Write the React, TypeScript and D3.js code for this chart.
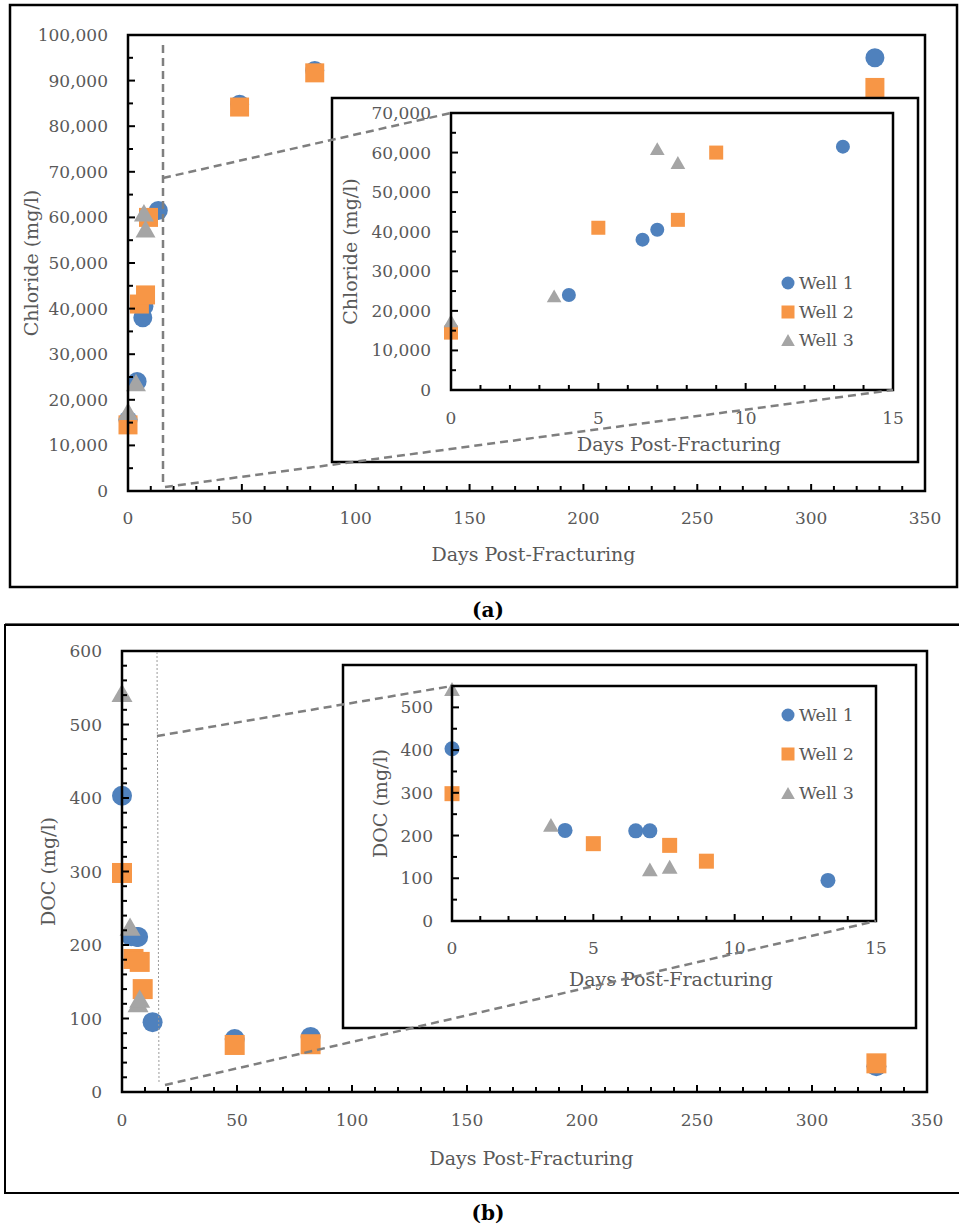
import React from 'react';
import * as d3 from 'd3';

// ---------------- DATA ----------------
const well1Days = [0, 4, 6.5, 7, 13.3, 49, 82, 328];
const well1Chloride = [15500, 24000, 38000, 40500, 61500, 84800, 92200, 95000];
const well1DOC = [403, 212, 211, 211, 95, 72, 75, 35];

const well2Days = [0, 5, 7.7, 9, 49, 82, 328];
const well2Chloride = [14500, 41000, 43000, 60000, 84200, 91700, 88500];
const well2DOC = [298, 181, 177, 140, 64, 65, 39];

const well3Days = [0, 3.5, 7, 7.7];
const well3Chloride = [17500, 23800, 61000, 57500];
const well3DOC = [543, 225, 121, 127];

const seriesNames = ['Well 1', 'Well 2', 'Well 3'];

const mainXTicks = [0, 50, 100, 150, 200, 250, 300, 350];
const insetXTicks = [0, 5, 10, 15];
const chlorideMainTicks = [0, 10000, 20000, 30000, 40000, 50000, 60000, 70000, 80000, 90000, 100000];
const chlorideInsetTicks = [0, 10000, 20000, 30000, 40000, 50000, 60000, 70000];
const docMainTicks = [0, 100, 200, 300, 400, 500, 600];
const docInsetTicks = [0, 100, 200, 300, 400, 500];

const xTitle = 'Days Post-Fracturing';
const chlorideTitle = 'Chloride (mg/l)';
const docTitle = 'DOC (mg/l)';

// ---------------- STYLE ----------------
const COLORS = ['#4F81BD', '#F79646', '#A5A5A5'];
const SHAPES = ['circle', 'square', 'triangle'] as const;
const FONT = '"DejaVu Serif", "Liberation Serif", serif';
const TXT = '#595959';
const fmt = d3.format(',');

type Shape = typeof SHAPES[number];

function Marker({ shape, cx, cy, s, color }: { shape: Shape; cx: number; cy: number; s: number; color: string }) {
  if (shape === 'circle') return <circle cx={cx} cy={cy} r={s / 2} fill={color} />;
  if (shape === 'square') return <rect x={cx - s / 2} y={cy - s / 2} width={s} height={s} fill={color} />;
  const w = s * 1.05;
  const h = s * 0.92;
  return (
    <polygon
      points={`${cx},${cy - h / 2} ${cx - w / 2},${cy + h / 2} ${cx + w / 2},${cy + h / 2}`}
      fill={color}
    />
  );
}

interface PlotCfg {
  left: number; right: number; top: number; bottom: number;
  xMax: number; yMax: number;
  xTicks: number[]; xMinorStep: number;
  yTicks: number[]; yMinorStep: number;
  yLabelGap: number; xLabelGap: number;
  xTitleY: number; yTitleX: number;
  yTitle: string;
  series: { days: number[]; vals: number[] }[];
  markerSize: number;
  clipDays?: number;
}

function Plot({ c }: { c: PlotCfg }) {
  const x = d3.scaleLinear().domain([0, c.xMax]).range([c.left, c.right]);
  const y = d3.scaleLinear().domain([0, c.yMax]).range([c.bottom, c.top]);
  const xMinor = d3.range(0, c.xMax + 1e-9, c.xMinorStep);
  const yMinor = d3.range(0, c.yMax + 1e-9, c.yMinorStep);
  const xMajorSet = new Set(c.xTicks);
  const yMajorSet = new Set(c.yTicks);
  const cx = (c.left + c.right) / 2;
  const cy = (c.top + c.bottom) / 2;
  return (
    <g>
      {c.series.map((s, si) =>
        s.days.map((d, i) =>
          c.clipDays !== undefined && d > c.clipDays ? null : (
            <Marker key={`${si}-${i}`} shape={SHAPES[si]} cx={x(d)} cy={y(s.vals[i])} s={c.markerSize} color={COLORS[si]} />
          )
        )
      )}
      <rect x={c.left} y={c.top} width={c.right - c.left} height={c.bottom - c.top} fill="none" stroke="#000" strokeWidth={2.5} />
      {xMinor.map((t) => (
        <line key={'xt' + t} x1={x(t)} x2={x(t)} y1={c.bottom} y2={c.bottom - (xMajorSet.has(+t.toFixed(6)) ? 7 : 5)} stroke="#000" strokeWidth={2} />
      ))}
      {yMinor.map((t) => (
        <line key={'yt' + t} x1={c.left} x2={c.left + (yMajorSet.has(+t.toFixed(6)) ? 7 : 5)} y1={y(t)} y2={y(t)} stroke="#000" strokeWidth={2} />
      ))}
      {c.xTicks.map((t) => (
        <text key={'xl' + t} x={x(t)} y={c.bottom + c.xLabelGap} textAnchor="middle" dominantBaseline="central" fontSize={17} fill={TXT} fontFamily={FONT}>
          {fmt(t)}
        </text>
      ))}
      {c.yTicks.map((t) => (
        <text key={'yl' + t} x={c.left - c.yLabelGap} y={y(t)} textAnchor="end" dominantBaseline="central" fontSize={17} fill={TXT} fontFamily={FONT}>
          {fmt(t)}
        </text>
      ))}
      <text x={cx + 7} y={c.xTitleY} textAnchor="middle" fontSize={19} fill={TXT} fontFamily={FONT}>{xTitle}</text>
      <text transform={`translate(${c.yTitleX},${cy}) rotate(-90)`} textAnchor="middle" dominantBaseline="central" fontSize={19} fill={TXT} fontFamily={FONT}>
        {c.yTitle}
      </text>
    </g>
  );
}

function Legend({ x, rows }: { x: number; rows: number[] }) {
  return (
    <g>
      {seriesNames.map((n, i) => (
        <g key={n}>
          <Marker shape={SHAPES[i]} cx={x} cy={rows[i]} s={13} color={COLORS[i]} />
          <text x={x + 11} y={rows[i]} dominantBaseline="central" fontSize={17.5} fill={TXT} fontFamily={FONT}>{n}</text>
        </g>
      ))}
    </g>
  );
}

const DASH = { stroke: '#7f7f7f', strokeWidth: 2.5, strokeDasharray: '8 5', fill: 'none' };

export default function App() {
  const mainA: PlotCfg = {
    left: 128, right: 925, top: 35, bottom: 491,
    xMax: 350, yMax: 100000,
    xTicks: mainXTicks, xMinorStep: 10,
    yTicks: chlorideMainTicks, yMinorStep: 5000,
    yLabelGap: 20, xLabelGap: 27,
    xTitleY: 561, yTitleX: 31, yTitle: chlorideTitle,
    series: [
      { days: well1Days, vals: well1Chloride },
      { days: well2Days, vals: well2Chloride },
      { days: well3Days, vals: well3Chloride },
    ],
    markerSize: 19,
  };
  const insetA: PlotCfg = {
    left: 451, right: 893, top: 113, bottom: 390,
    xMax: 15, yMax: 70000,
    xTicks: insetXTicks, xMinorStep: 1,
    yTicks: chlorideInsetTicks, yMinorStep: 5000,
    yLabelGap: 20, xLabelGap: 28,
    xTitleY: 451, yTitleX: 350, yTitle: chlorideTitle,
    series: mainA.series,
    markerSize: 14,
    clipDays: 15,
  };
  const mainB: PlotCfg = {
    left: 122, right: 927, top: 651, bottom: 1092,
    xMax: 350, yMax: 600,
    xTicks: mainXTicks, xMinorStep: 10,
    yTicks: docMainTicks, yMinorStep: 20,
    yLabelGap: 20, xLabelGap: 28,
    xTitleY: 1165, yTitleX: 48, yTitle: docTitle,
    series: [
      { days: well1Days, vals: well1DOC },
      { days: well2Days, vals: well2DOC },
      { days: well3Days, vals: well3DOC },
    ],
    markerSize: 20,
  };
  const insetB: PlotCfg = {
    left: 452, right: 876, top: 686, bottom: 921,
    xMax: 15, yMax: 550,
    xTicks: insetXTicks, xMinorStep: 1,
    yTicks: docInsetTicks, yMinorStep: 50,
    yLabelGap: 19, xLabelGap: 27,
    xTitleY: 986, yTitleX: 380, yTitle: docTitle,
    series: mainB.series,
    markerSize: 15,
    clipDays: 15,
  };

  return (
    <svg width={959} height={1230} style={{ position: 'absolute', left: 0, top: 0, background: '#fff' }}>
      <rect x={0} y={0} width={959} height={1230} fill="#fff" />
      {/* Panel (a) */}
      <rect x={10} y={5} width={947} height={582} fill="none" stroke="#000" strokeWidth={2.5} />
      <Plot c={mainA} />
      <rect x={332} y={98} width={586} height={364} fill="#fff" stroke="#000" strokeWidth={2.5} />
      <Plot c={insetA} />
      <Legend x={788} rows={[283, 312, 340]} />
      <line x1={163} y1={45} x2={163} y2={485} {...DASH} />
      <line x1={163} y1={178} x2={451} y2={113} {...DASH} />
      <line x1={165} y1={487} x2={893} y2={390} {...DASH} />
      <text x={488} y={610} textAnchor="middle" dominantBaseline="central" fontSize={20} fontWeight="bold" fill="#000" fontFamily={FONT}>(a)</text>

      {/* Panel (b) */}
      <line x1={5} y1={624} x2={959} y2={624} stroke="#333" strokeWidth={1.5} />
      <rect x={5} y={625} width={960} height={568} fill="none" stroke="#000" strokeWidth={2} />
      <Plot c={mainB} />
      <rect x={343} y={665} width={573} height={363} fill="#fff" stroke="#000" strokeWidth={2.5} />
      <Plot c={insetB} />
      <Legend x={788} rows={[715, 754, 793]} />
      <line x1={157} y1={652} x2={159} y2={1083} stroke="#9a9a9a" strokeWidth={1} strokeDasharray="2 2" />
      <line x1={157} y1={736} x2={452} y2={686} {...DASH} />
      <line x1={165} y1={1085} x2={876} y2={921} {...DASH} />
      <text x={488} y={1213} textAnchor="middle" dominantBaseline="central" fontSize={20} fontWeight="bold" fill="#000" fontFamily={FONT}>(b)</text>
    </svg>
  );
}
